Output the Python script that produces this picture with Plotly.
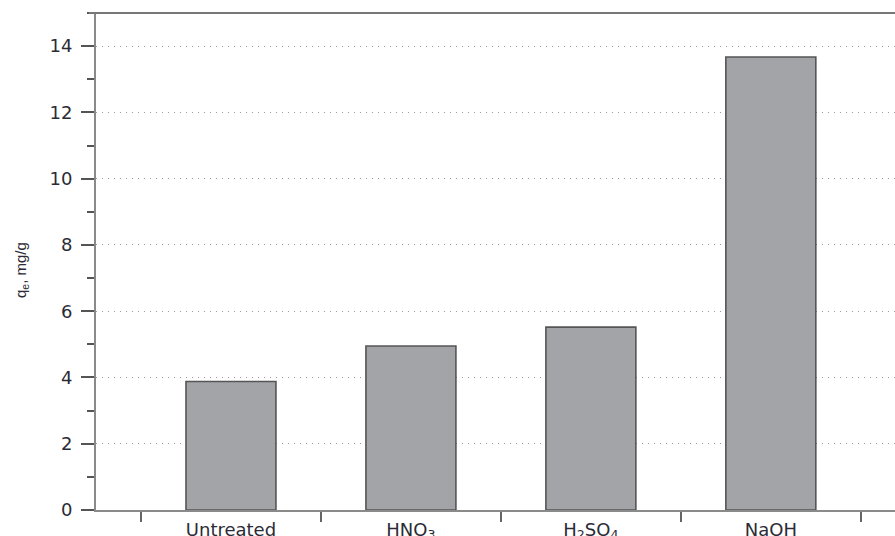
import plotly.graph_objects as go

# Adsorption capacity by treatment
categories = ["Untreated", "HNO<sub>3</sub>", "H<sub>2</sub>SO<sub>4</sub>", "NaOH"]
qe_values = [3.88, 4.95, 5.52, 13.67]
y_ticks = [0, 2, 4, 6, 8, 10, 12, 14]

fig = go.Figure()
fig.add_trace(go.Bar(
    x=categories,
    y=qe_values,
    width=0.5,
    marker=dict(color="#a3a4a8", line=dict(color="#555555", width=1.6)),
))

tick_font = "DejaVu Sans, Liberation Sans, Arial, sans-serif"
title_font = "Liberation Sans, Arial, Helvetica, sans-serif"

fig.update_layout(
    width=895,
    height=536,
    margin=dict(l=96, r=0, t=13, b=26),
    paper_bgcolor="white",
    plot_bgcolor="white",
    showlegend=False,
    font=dict(family=tick_font, color="#2b2b35", size=18),
    xaxis=dict(
        range=[-0.75, 3.69],
        automargin=False,
        tickson="boundaries",
        ticks="outside",
        ticklen=10,
        tickwidth=1.5,
        tickcolor="#666666",
        showline=True,
        linecolor="#8a8a8a",
        linewidth=2,
        showgrid=False,
        tickfont=dict(size=18),
        ticklabelstandoff=2,
    ),
    yaxis=dict(
        range=[0, 15],
        automargin=False,
        tickvals=y_ticks,
        ticks="outside",
        ticklen=13,
        tickwidth=1.5,
        tickcolor="#555555",
        showline=True,
        linecolor="#8a8a8a",
        linewidth=2,
        showgrid=True,
        gridcolor="#9a9a9a",
        gridwidth=1,
        griddash="1px,5px",
        zeroline=False,
        tickfont=dict(size=18),
        ticklabelstandoff=5,
        minor=dict(dtick=1, ticks="outside", ticklen=7, tickwidth=1.5,
                   tickcolor="#555555", showgrid=False),
    ),
)

# Y-axis title
fig.add_annotation(
    text="q<sub>e</sub>, mg/g",
    xref="paper", yref="paper",
    x=-96 / 799 + 21 / 799, y=(510 - 270) / 497,
    xanchor="center", yanchor="middle",
    textangle=-90, showarrow=False,
    font=dict(family=title_font, size=15, color="#2b2b35"),
)

# Top frame line
fig.add_shape(type="line", xref="paper", yref="paper",
              x0=-0.009, x1=1.0, y0=1.0, y1=1.0,
              line=dict(color="#777777", width=2))

fig.write_html("out.html")
